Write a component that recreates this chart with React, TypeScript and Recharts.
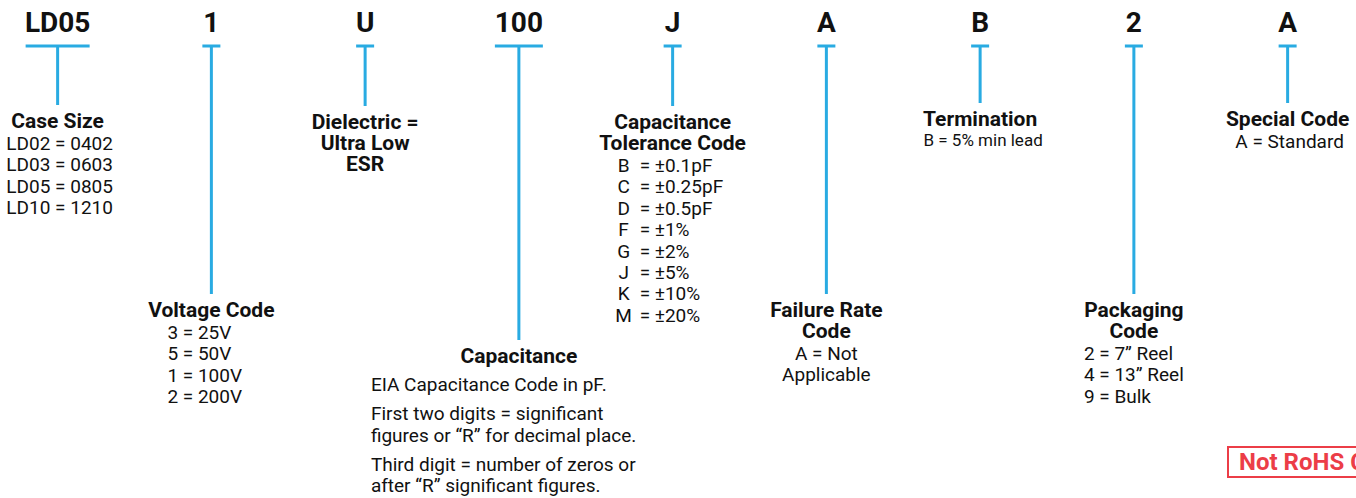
import { ComposedChart, Bar, XAxis, YAxis } from 'recharts';

// part number segments, left to right
const codes = ['LD05', '1', 'U', '100', 'J', 'A', 'B', '2', 'A'];
// where each leader line ends (y units = px from top)
const stemEnds = [105, 294, 106, 340, 106, 294, 103, 294, 103];
const capLevel = 46;

const titles = [
  ['Case Size'],
  ['Voltage Code'],
  ['Dielectric =', 'Ultra Low', 'ESR'],
  ['Capacitance'],
  ['Capacitance', 'Tolerance Code'],
  ['Failure Rate', 'Code'],
  ['Termination'],
  ['Packaging', 'Code'],
  ['Special Code'],
];

const details: string[][][] = [
  [['LD02 = 0402', 'LD03 = 0603', 'LD05 = 0805', 'LD10 = 1210']],
  [['3 = 25V', '5 = 50V', '1 = 100V', '2 = 200V']],
  [],
  [
    ['EIA Capacitance Code in pF.'],
    ['First two digits = significant', 'figures or “R” for decimal place.'],
    ['Third digit = number of zeros or', 'after “R” significant figures.'],
  ],
  [],
  [['A = Not', 'Applicable']],
  [['B = 5% min lead']],
  [['2 = 7” Reel', '4 = 13” Reel', '9 = Bulk']],
  [['A = Standard']],
];

const toleranceKeys = ['B', 'C', 'D', 'F', 'G', 'J', 'K', 'M'];
const toleranceValues = ['±0.1pF', '±0.25pF', '±0.5pF', '±1%', '±2%', '±5%', '±10%', '±20%'];

// text placement per column (styling only)
const layout: { align: 'middle' | 'start'; dx: number; size: number; table?: boolean }[] = [
  { align: 'middle', dx: 2, size: 19 },
  { align: 'start', dx: -44, size: 19 },
  { align: 'middle', dx: 0, size: 19 },
  { align: 'start', dx: -148, size: 19 },
  { align: 'start', dx: -33, size: 19, table: true },
  { align: 'middle', dx: 0, size: 19 },
  { align: 'middle', dx: 3, size: 17 },
  { align: 'start', dx: -50, size: 19 },
  { align: 'middle', dx: 2, size: 19 },
];

const CYAN = '#29abe2';
const INK = '#111';
const RED = '#ec3d47';
const FONT = 'Roboto, "Noto Sans", sans-serif';

const rows = codes.map((code, i) => ({ idx: i, code, stem: [capLevel, stemEnds[i]] }));

function Stem(props: any) {
  const { x, y, width, height, index } = props;
  const cx = x + width / 2;
  const top = Math.min(y, y + height);
  const bottom = Math.max(y, y + height);
  const code = codes[index];
  const capW = Math.max(18, code.length * 16);
  const st = layout[index];
  const out: any[] = [];

  let ty = bottom + 23;
  titles[index].forEach((t, k) => {
    out.push(
      <text key={'t' + k} x={cx} y={ty} textAnchor="middle" fontFamily={FONT} fontSize={21} fontWeight={700} fill={INK}>
        {t}
      </text>
    );
    ty += 21;
  });
  ty -= 21;

  if (st.table) {
    let ly = ty + 22;
    toleranceKeys.forEach((k, i) => {
      out.push(
        <text key={'k' + i} x={cx - 49} y={ly} textAnchor="middle" fontFamily={FONT} fontSize={st.size} fill={INK}>
          {k}
        </text>,
        <text key={'v' + i} x={cx + st.dx} y={ly} textAnchor="start" fontFamily={FONT} fontSize={st.size} fill={INK}>
          {'= ' + toleranceValues[i]}
        </text>
      );
      ly += 21.4;
    });
  }

  const paras = details[index];
  let ly = ty + (paras.length > 1 ? 28 : st.size < 18 ? 20 : 22);
  paras.forEach((p, pi) => {
    p.forEach((line, li) => {
      out.push(
        <text key={'d' + pi + '-' + li} x={cx + st.dx} y={ly} textAnchor={st.align} fontFamily={FONT} fontSize={st.size} fill={INK}>
          {line}
        </text>
      );
      ly += 21.3;
    });
    ly += 8;
  });

  return (
    <g>
      <text x={cx} y={32} textAnchor="middle" fontFamily={FONT} fontSize={28} fontWeight={700} fill={INK}>
        {code}
      </text>
      <rect x={cx - capW / 2} y={top - 1.5} width={capW} height={3} fill={CYAN} />
      <rect x={cx - 1.5} y={top} width={3} height={bottom - top} fill={CYAN} />
      {out}
    </g>
  );
}

export default function App() {
  return (
    <div style={{ position: 'absolute', left: 0, top: 0, width: 1356, height: 498, overflow: 'hidden', background: '#fff' }}>
      <ComposedChart width={1356} height={498} data={rows} margin={{ top: 0, right: 68, bottom: 0, left: 58 }}>
        <XAxis type="number" dataKey="idx" domain={[0, 8]} hide />
        <YAxis type="number" domain={[0, 498]} reversed hide allowDataOverflow />
        <Bar dataKey="stem" barSize={3} fill={CYAN} shape={<Stem />} isAnimationActive={false} />
      </ComposedChart>
      <div
        style={{
          position: 'absolute',
          left: 1227,
          top: 446,
          height: 28,
          border: '2px solid ' + RED,
          paddingLeft: 10,
          paddingRight: 8,
          color: RED,
          fontFamily: FONT,
          fontWeight: 700,
          fontSize: 24,
          lineHeight: '29px',
          whiteSpace: 'nowrap',
        }}
      >
        Not RoHS Compliant
      </div>
    </div>
  );
}
